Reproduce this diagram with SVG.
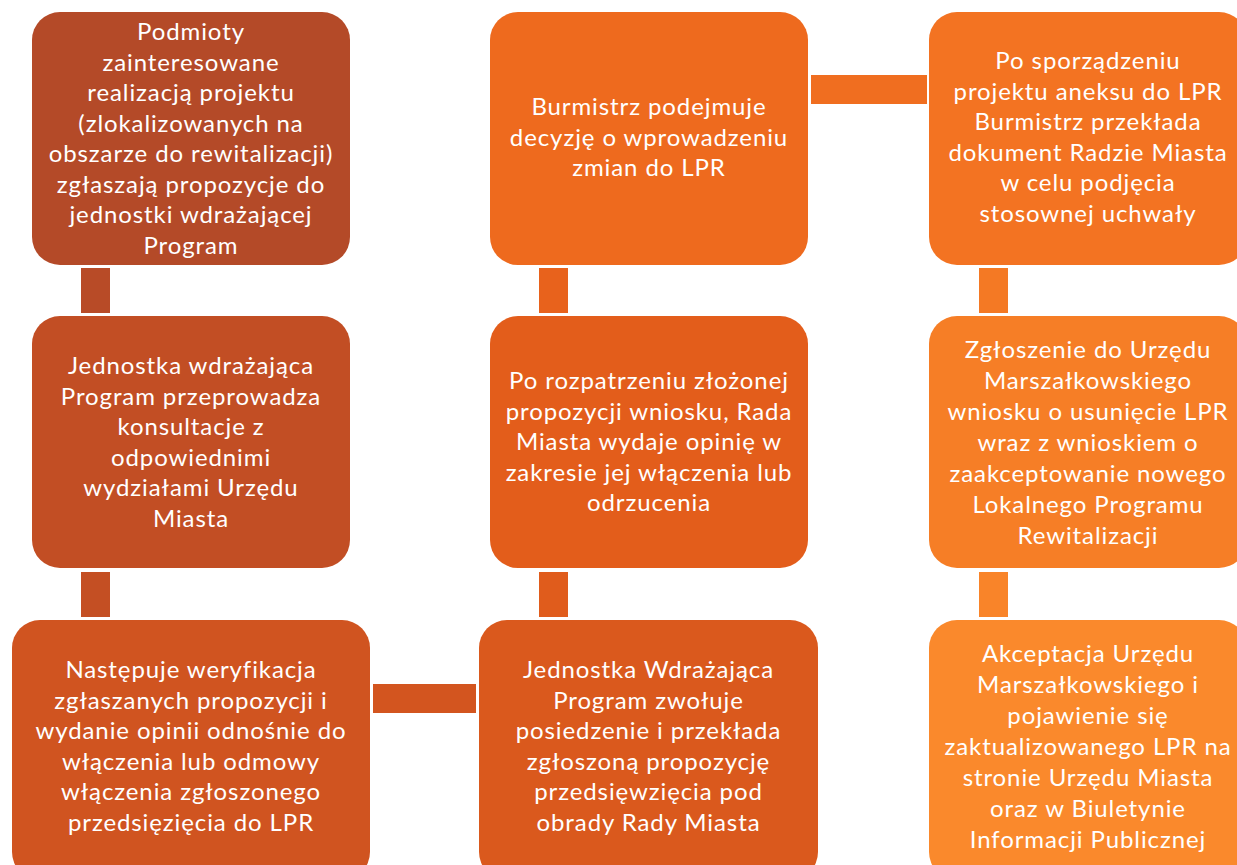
<svg xmlns="http://www.w3.org/2000/svg" width="1237" height="865" viewBox="0 0 1237 865">
<style>
text{font-family:Lato,"Liberation Sans",sans-serif;font-size:24px;letter-spacing:0.9px;fill:#fff;text-anchor:middle}
</style>
<rect width="1237" height="865" fill="#fff"/>
<g id="connectors">
<rect x="81" y="268" width="29" height="45" fill="#B84B27"/>
<rect x="81" y="572" width="29" height="45" fill="#C44F23"/>
<rect x="373" y="684" width="103" height="29" fill="#D3551F"/>
<rect x="539" y="572" width="29" height="45" fill="#E05C1C"/>
<rect x="539" y="268" width="29" height="45" fill="#E8621C"/>
<rect x="811" y="75" width="116" height="29" fill="#F06E20"/>
<rect x="979" y="268" width="29" height="45" fill="#F47924"/>
<rect x="979" y="572" width="29" height="45" fill="#F98429"/>
</g>
<g id="n1">
<rect x="32" y="12" width="318" height="253" rx="28" fill="#B44A28"/>
<text x="191" y="40">Podmioty</text>
<text x="191" y="70.5">zainteresowane</text>
<text x="191" y="101">realizacją projektu</text>
<text x="191" y="131.5">(zlokalizowanych na</text>
<text x="191" y="162">obszarze do rewitalizacji)</text>
<text x="191" y="192.5">zgłaszają propozycje do</text>
<text x="191" y="223">jednostki wdrażającej</text>
<text x="191" y="253.5">Program</text>
</g>
<g id="n2">
<rect x="32" y="316" width="318" height="252" rx="28" fill="#C24E24"/>
<text x="191" y="374">Jednostka wdrażająca</text>
<text x="191" y="404.5">Program przeprowadza</text>
<text x="191" y="435">konsultacje z</text>
<text x="191" y="465.5">odpowiednimi</text>
<text x="191" y="496">wydziałami Urzędu</text>
<text x="191" y="526.5">Miasta</text>
</g>
<g id="n3">
<rect x="12" y="620" width="358" height="260" rx="28" fill="#D05420"/>
<text x="191" y="678">Następuje weryfikacja</text>
<text x="191" y="708.5">zgłaszanych propozycji i</text>
<text x="191" y="739">wydanie opinii odnośnie do</text>
<text x="191" y="769.5">włączenia lub odmowy</text>
<text x="191" y="800">włączenia zgłoszonego</text>
<text x="191" y="830.5">przedsięzięcia do LPR</text>
</g>
<g id="n4">
<rect x="479" y="620" width="339" height="260" rx="28" fill="#DA591D"/>
<text x="648.5" y="678">Jednostka Wdrażająca</text>
<text x="648.5" y="708.5">Program zwołuje</text>
<text x="648.5" y="739">posiedzenie i przekłada</text>
<text x="648.5" y="769.5">zgłoszoną propozycję</text>
<text x="648.5" y="800">przedsięwzięcia pod</text>
<text x="648.5" y="830.5">obrady Rady Miasta</text>
</g>
<g id="n5">
<rect x="490" y="316" width="318" height="252" rx="28" fill="#E35D1B"/>
<text x="649" y="389">Po rozpatrzeniu złożonej</text>
<text x="649" y="419.5">propozycji wniosku, Rada</text>
<text x="649" y="450">Miasta wydaje opinię w</text>
<text x="649" y="480.5">zakresie jej włączenia lub</text>
<text x="649" y="511">odrzucenia</text>
</g>
<g id="n6">
<rect x="490" y="12" width="318" height="253" rx="28" fill="#EE6A1E"/>
<text x="649" y="115">Burmistrz podejmuje</text>
<text x="649" y="145.5">decyzję o wprowadzeniu</text>
<text x="649" y="176">zmian do LPR</text>
</g>
<g id="n7">
<rect x="929" y="12" width="318" height="253" rx="28" fill="#F37322"/>
<text x="1088" y="69">Po sporządzeniu</text>
<text x="1088" y="99.5">projektu aneksu do LPR</text>
<text x="1088" y="130">Burmistrz przekłada</text>
<text x="1088" y="160.5">dokument Radzie Miasta</text>
<text x="1088" y="191">w celu podjęcia</text>
<text x="1088" y="221.5">stosownej uchwały</text>
</g>
<g id="n8">
<rect x="929" y="316" width="318" height="252" rx="28" fill="#F67E26"/>
<text x="1088" y="358">Zgłoszenie do Urzędu</text>
<text x="1088" y="389">Marszałkowskiego</text>
<text x="1088" y="420">wniosku o usunięcie LPR</text>
<text x="1088" y="451">wraz z wnioskiem o</text>
<text x="1088" y="482">zaakceptowanie nowego</text>
<text x="1088" y="513">Lokalnego Programu</text>
<text x="1088" y="544">Rewitalizacji</text>
</g>
<g id="n9">
<rect x="929" y="620" width="318" height="260" rx="28" fill="#FA892C"/>
<text x="1088" y="662">Akceptacja Urzędu</text>
<text x="1088" y="693">Marszałkowskiego i</text>
<text x="1088" y="724">pojawienie się</text>
<text x="1088" y="755">zaktualizowanego LPR na</text>
<text x="1088" y="786">stronie Urzędu Miasta</text>
<text x="1088" y="817">oraz w Biuletynie</text>
<text x="1088" y="848">Informacji Publicznej</text>
</g>
</svg>
